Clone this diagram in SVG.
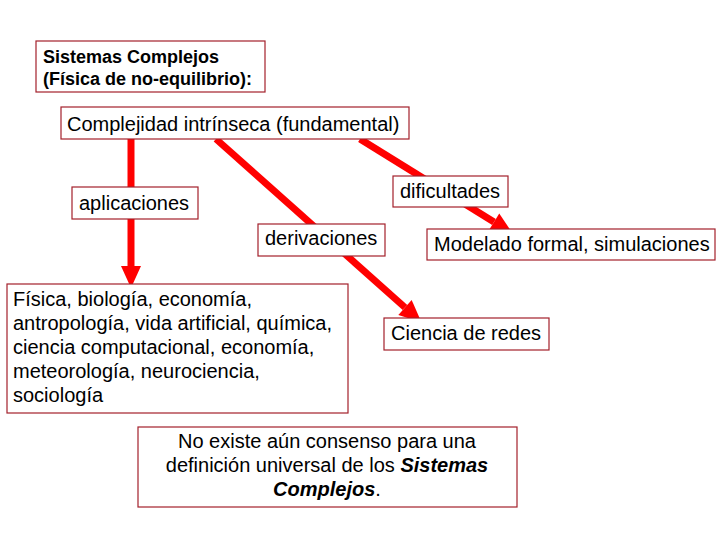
<svg xmlns="http://www.w3.org/2000/svg" width="720" height="540" viewBox="0 0 720 540">
<style>
.box{fill:#fff;stroke:#a3212b;stroke-width:1.2}
.t{font-family:"Liberation Sans",Arial,sans-serif;font-size:20px;fill:#000}
.b{font-family:"Liberation Sans",Arial,sans-serif;font-size:18px;font-weight:bold;fill:#000}
.c{stroke:#ff0000;stroke-width:7;fill:none}
</style>
<defs>
<marker id="ah" viewBox="0 -12 24 24" markerWidth="24" markerHeight="24" refX="0" refY="0" orient="auto" markerUnits="userSpaceOnUse" overflow="visible">
<path d="M0,-10 L22,0 L0,10 Z" fill="#ff0000"/>
</marker>
</defs>
<rect width="720" height="540" fill="#fff"/>
<g id="connectors">
<line class="c" x1="131" y1="139" x2="131" y2="266" marker-end="url(#ah)"/>
<line class="c" x1="216" y1="139" x2="405" y2="307.5" marker-end="url(#ah)"/>
<line class="c" x1="360" y1="139" x2="494" y2="222" marker-end="url(#ah)"/>
</g>
<g id="title">
<rect class="box" x="36" y="41" width="229" height="51"/>
<text class="b" x="43" y="63">Sistemas Complejos</text>
<text class="b" x="43" y="85">(Física de no-equilibrio):</text>
</g>
<g id="complejidad">
<rect class="box" x="61" y="107" width="348" height="32"/>
<text class="t" x="67" y="131">Complejidad intrínseca (fundamental)</text>
</g>
<g id="aplicaciones">
<rect class="box" x="72" y="187" width="126" height="32"/>
<text class="t" x="79" y="210">aplicaciones</text>
</g>
<g id="dificultades">
<rect class="box" x="393" y="176" width="115" height="31"/>
<text class="t" x="400" y="198">dificultades</text>
</g>
<g id="derivaciones">
<rect class="box" x="258" y="224" width="127" height="32"/>
<text class="t" x="265" y="245">derivaciones</text>
</g>
<g id="modelado">
<rect class="box" x="427" y="229" width="288" height="31"/>
<text class="t" x="434" y="251">Modelado formal, simulaciones</text>
</g>
<g id="fisica">
<rect class="box" x="7" y="284" width="341" height="129"/>
<text class="t" x="13" y="306">Física, biología, economía,</text>
<text class="t" x="13" y="330">antropología, vida artificial, química,</text>
<text class="t" x="13" y="354">ciencia computacional, economía,</text>
<text class="t" x="13" y="378">meteorología, neurociencia,</text>
<text class="t" x="13" y="402">sociología</text>
</g>
<g id="redes">
<rect class="box" x="384" y="318" width="165" height="32"/>
<text class="t" x="391" y="340">Ciencia de redes</text>
</g>
<g id="consenso">
<rect class="box" x="138" y="427" width="379" height="80"/>
<text class="t" x="327" y="448" text-anchor="middle">No existe aún consenso para una</text>
<text class="t" x="327" y="472" text-anchor="middle">definición universal de los  <tspan font-weight="bold" font-style="italic">Sistemas</tspan></text>
<text class="t" x="327" y="496" text-anchor="middle"><tspan font-weight="bold" font-style="italic">Complejos</tspan>.</text>
</g>
</svg>
